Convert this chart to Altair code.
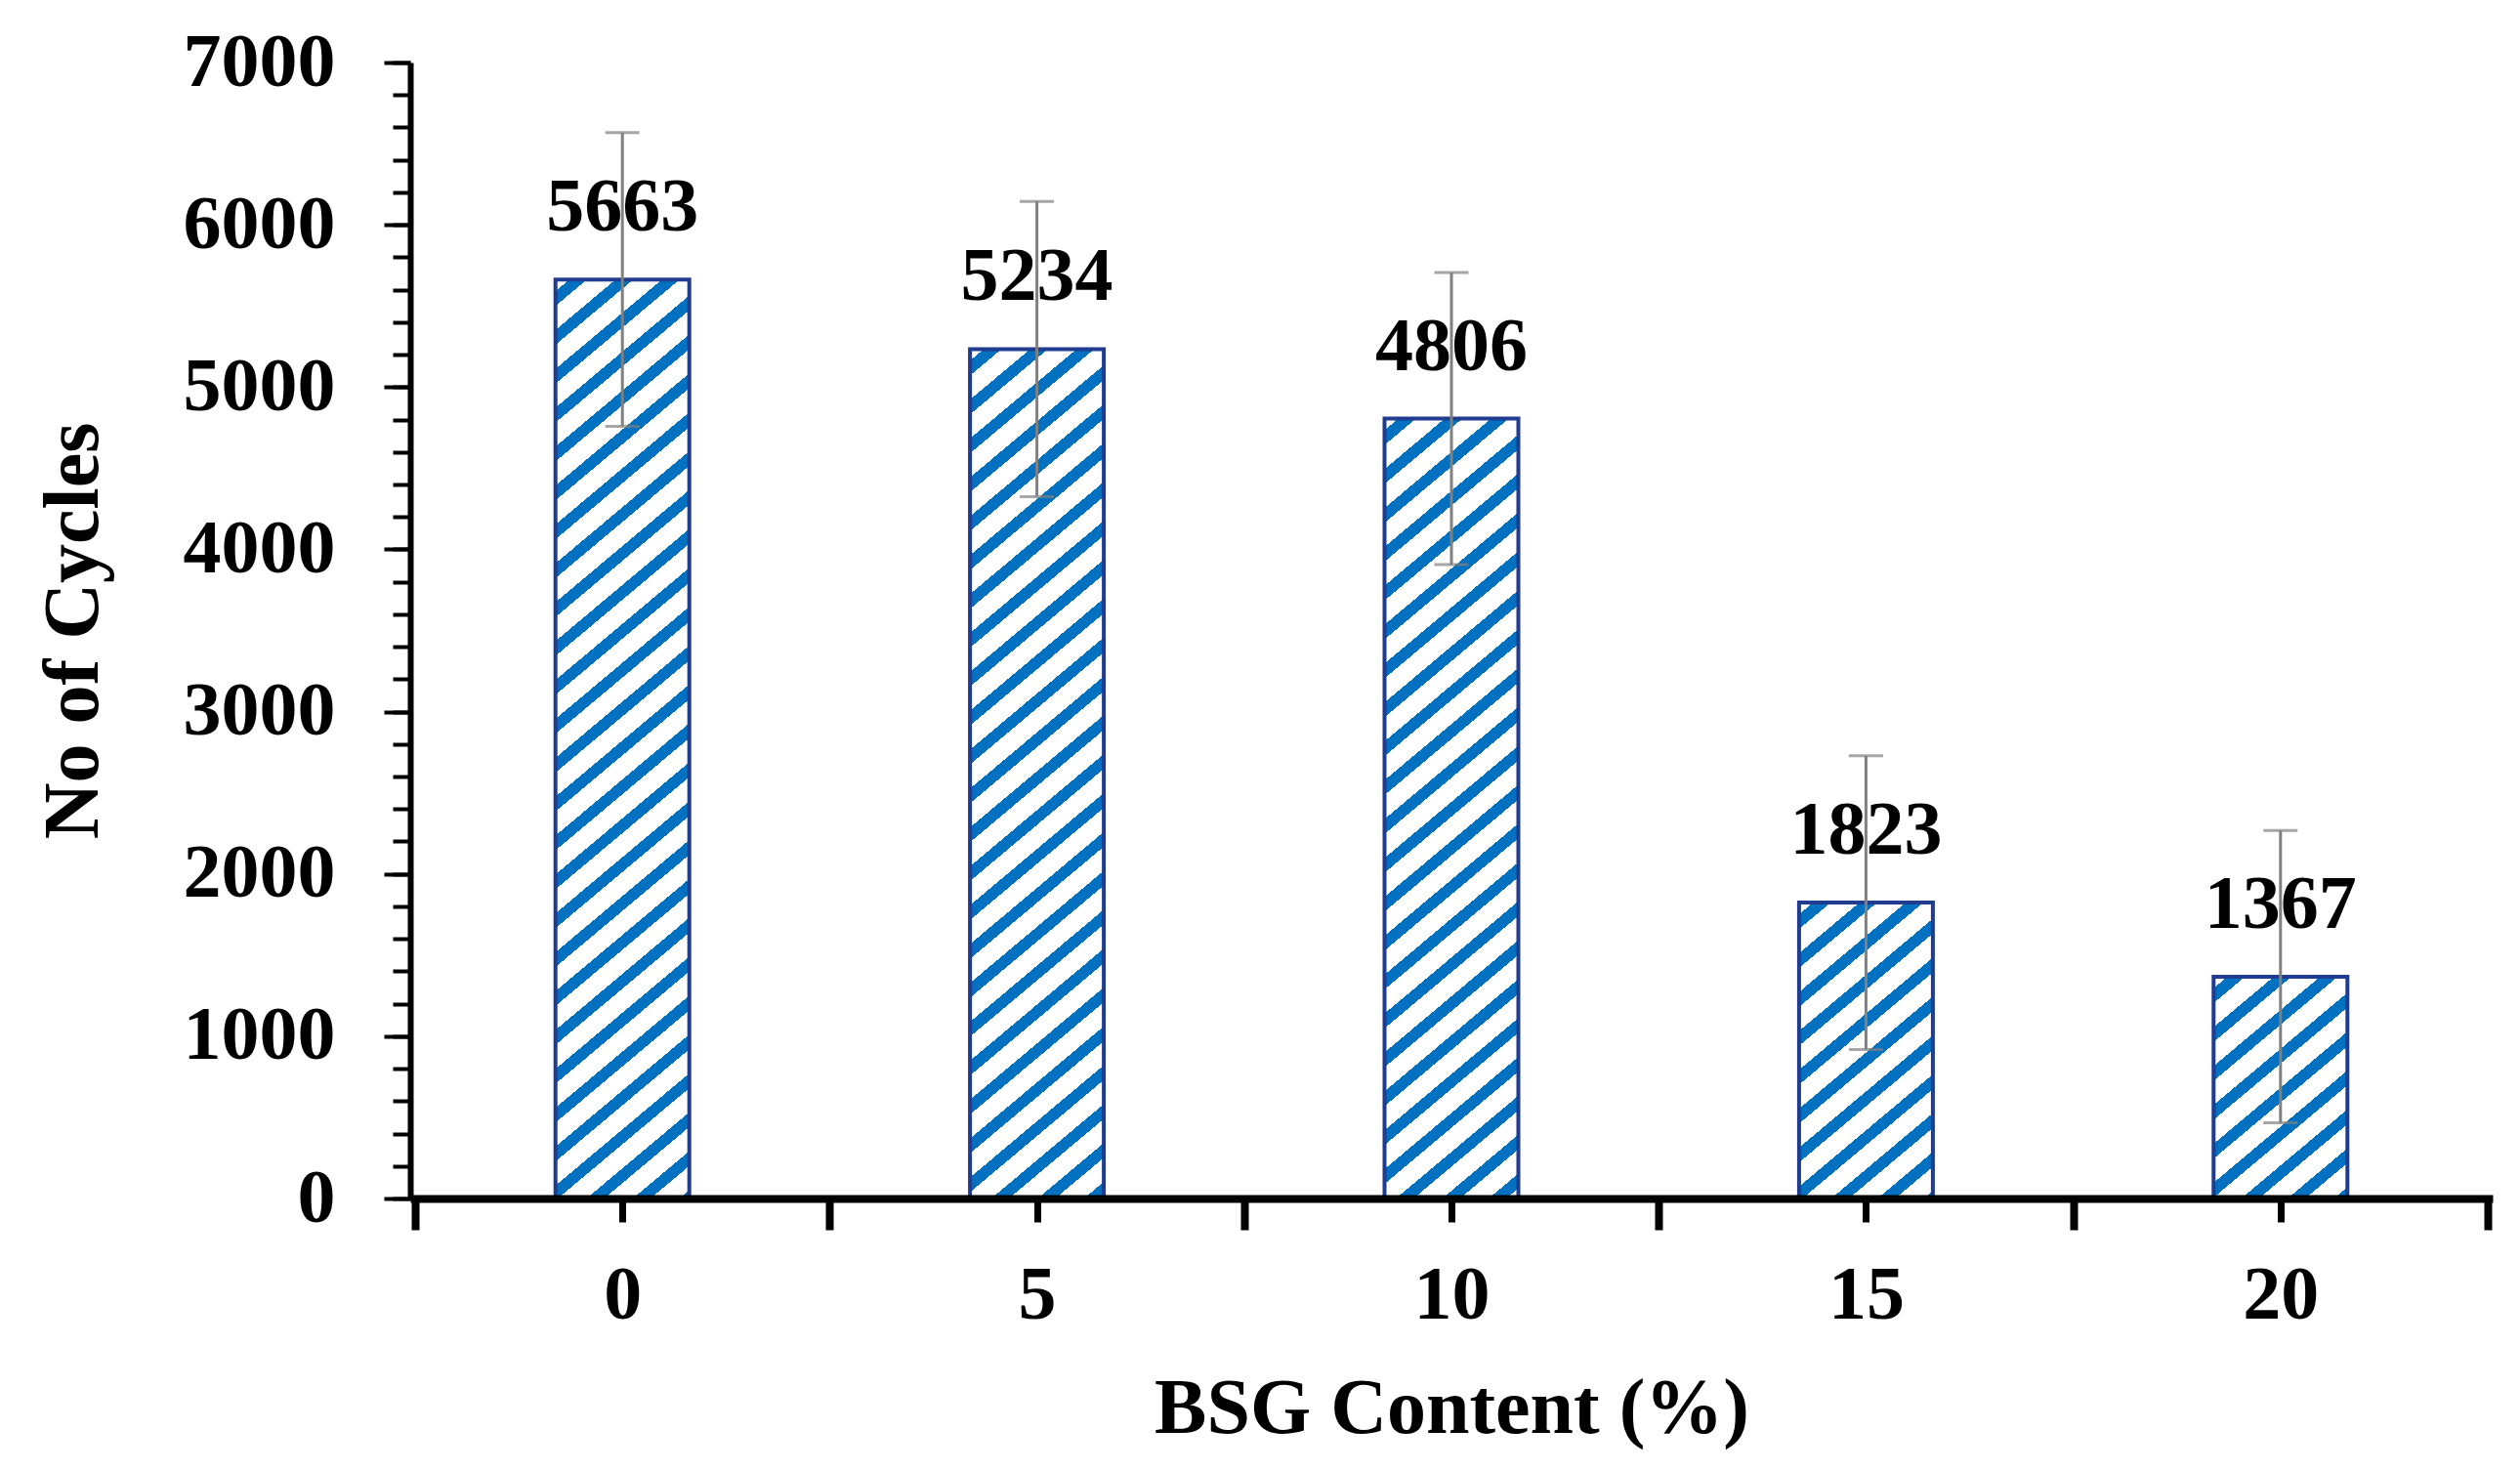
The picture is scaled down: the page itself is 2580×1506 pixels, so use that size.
import math
import altair as alt
import pandas as pd

# ---- data ----
bsg = [0, 5, 10, 15, 20]
cycles = [5663, 5234, 4806, 1823, 1367]
errors = [905, 910, 900, 905, 900]

y_major = [0, 1000, 2000, 3000, 4000, 5000, 6000, 7000]
y_minor = list(range(0, 7001, 200))
x_centers = [0, 5, 10, 15, 20]
x_bounds = [-2.5, 2.5, 7.5, 12.5, 17.5, 22.5]

df = pd.DataFrame({"bsg": bsg, "cycles": cycles, "err": errors})
df["lo"] = df["cycles"] - df["err"]
df["hi"] = df["cycles"] + df["err"]

# ---- style ----
W, H = 2132, 1163
YMAX = 7000
BAR_W = 137
FONT = "Liberation Serif"
BLUE = "#0070C0"
EDGE = "#1F3C8F"
GRAY = "#808080"
PX_PER_UNIT = H / YMAX
ANGLE = 40.0
PERIOD = 30.5
FRAC = 0.38


def hatch(value):
    w = BAR_W
    h = max(value * PX_PER_UNIT, 1.0)
    th = math.radians(ANGLE)
    sn, cs = math.sin(th), math.cos(th)
    m = (w * sn) ** 2 + (h * cs) ** 2
    dtot = w * sn + h * cs
    s = dtot / m
    n = dtot / PERIOD
    stops = [{"offset": 0.0, "color": "white"}]
    k = 0
    while (k + 0.3) / n < 1:
        a = (k + 0.3) / n
        b = min((k + 0.3 + FRAC) / n, 1.0)
        stops += [
            {"offset": a, "color": "white"},
            {"offset": a, "color": BLUE},
            {"offset": b, "color": BLUE},
            {"offset": b, "color": "white"},
        ]
        k += 1
    stops.append({"offset": 1.0, "color": "white"})
    return {
        "gradient": "linear",
        "x1": 0,
        "y1": 0,
        "x2": s * w * sn,
        "y2": s * h * cs,
        "stops": stops,
    }


conds = [
    {"test": f"datum.bsg === {c}", "value": hatch(v)} for c, v in zip(bsg, cycles)
]

xscale = alt.Scale(domain=[-2.5, 22.5], nice=False, zero=False)
yscale = alt.Scale(domain=[0, YMAX], nice=False)

base = alt.Chart(df)

bars = base.mark_bar(size=BAR_W, stroke=EDGE, strokeWidth=4).encode(
    x=alt.X(
        "bsg:Q",
        scale=xscale,
        axis=alt.Axis(
            orient="bottom",
            values=x_centers,
            title="BSG Content (%)",
            tickSize=24,
            tickWidth=7,
            tickColor="black",
            domainWidth=8,
            domainColor="black",
            labelPadding=36,
            labelFont=FONT,
            labelFontSize=78,
            labelFontWeight="bold",
            labelColor="black",
            titleFont=FONT,
            titleFontSize=80,
            titleFontWeight="bold",
            titleColor="black",
            titlePadding=38,
            grid=False,
            zindex=1,
        ),
    ),
    y=alt.Y(
        "cycles:Q",
        scale=yscale,
        axis=alt.Axis(
            orient="left",
            values=y_major,
            format="d",
            title="No of Cycles",
            tickSize=27,
            tickWidth=4,
            tickColor="black",
            domainWidth=6,
            domainColor="black",
            labelPadding=50,
            labelFont=FONT,
            labelFontSize=78,
            labelFontWeight="bold",
            labelColor="black",
            titleFont=FONT,
            titleFontSize=80,
            titleFontWeight="bold",
            titleColor="black",
            titlePadding=104,
            grid=False,
            zindex=1,
        ),
    ),
    fill=alt.FillValue(value="white", condition=conds),
)

err = base.mark_rule(color=GRAY, strokeWidth=3).encode(
    x=alt.X(
        "bsg:Q",
        scale=xscale,
        axis=alt.Axis(
            orient="bottom",
            values=x_bounds,
            labels=False,
            domain=False,
            title=None,
            tickSize=32,
            tickWidth=8,
            tickColor="black",
            grid=False,
            zindex=1,
        ),
    ),
    y=alt.Y(
        "lo:Q",
        scale=yscale,
        axis=alt.Axis(
            orient="left",
            values=y_minor,
            labels=False,
            domain=False,
            title=None,
            tickSize=18,
            tickWidth=4,
            tickColor="black",
            grid=False,
            zindex=1,
        ),
    ),
    y2="hi:Q",
)

cap_hi = base.mark_tick(orient="horizontal", size=35, thickness=3, color=GRAY).encode(
    x=alt.X("bsg:Q", scale=xscale, axis=None),
    y=alt.Y("hi:Q", scale=yscale, axis=None),
)
cap_lo = base.mark_tick(orient="horizontal", size=35, thickness=3, color=GRAY).encode(
    x=alt.X("bsg:Q", scale=xscale, axis=None),
    y=alt.Y("lo:Q", scale=yscale, axis=None),
)

labels = base.mark_text(
    font=FONT, fontSize=78, fontWeight="bold", color="black",
    baseline="alphabetic", align="center", dy=-50,
).encode(
    x=alt.X("bsg:Q", scale=xscale, axis=None),
    y=alt.Y("cycles:Q", scale=yscale, axis=None),
    text=alt.Text("cycles:Q", format="d"),
)

chart = (
    alt.layer(bars, err, cap_hi, cap_lo, labels)
    .resolve_axis(x="independent", y="independent")
    .properties(
        width=W,
        height=H,
        padding={"left": 27, "top": 17, "right": 5, "bottom": 5},
        background="white",
    )
    .configure_view(stroke=None)
)

chart.save("out.html", embed_options={"renderer": "svg", "actions": False})
